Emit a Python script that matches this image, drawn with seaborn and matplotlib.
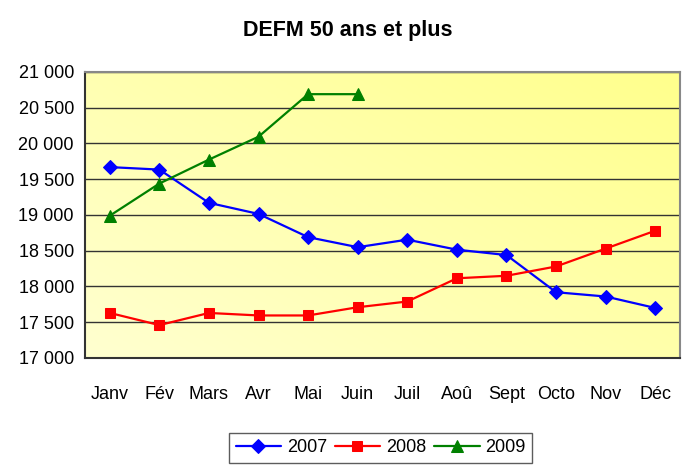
import numpy as np
import pandas as pd
import matplotlib
matplotlib.use('Agg')
import matplotlib.pyplot as plt
import seaborn as sns
from matplotlib.colors import LinearSegmentedColormap
from matplotlib.ticker import FixedLocator, FuncFormatter

# data
mois = ['Janv', 'Fév', 'Mars', 'Avr', 'Mai', 'Juin', 'Juil', 'Aoû', 'Sept', 'Octo', 'Nov', 'Déc']
v2007 = [19670, 19635, 19170, 19015, 18690, 18550, 18655, 18515, 18440, 17920, 17860, 17700]
v2008 = [17630, 17460, 17630, 17595, 17595, 17710, 17790, 18115, 18150, 18280, 18530, 18780]
v2009 = [18990, 19440, 19775, 20095, 20690, 20690]

df = pd.DataFrame({'mois': mois, '2007': v2007, '2008': v2008,
                   '2009': v2009 + [np.nan] * (len(mois) - len(v2009))})
df['x'] = range(len(mois))

sns.set_style('white')
plt.rcParams['font.family'] = ['Liberation Sans', 'DejaVu Sans']
plt.rcParams['text.color'] = 'black'
plt.rcParams['xtick.labelcolor'] = 'black'
plt.rcParams['ytick.labelcolor'] = 'black'

fig = plt.figure(figsize=(6.92, 4.72), dpi=100)
ax = fig.add_axes([85 / 692, 114 / 472, 595 / 692, 286 / 472])

# yellow gradient background
cmap = LinearSegmentedColormap.from_list('jaune', ['#FFFFD0', '#FFFF8C'])
gx, gy = np.meshgrid(np.linspace(0, 1, 200), np.linspace(0, 1, 200))
ax.imshow(gx * 0.55 + gy * 0.45, cmap=cmap, extent=[0, 1, 0, 1], transform=ax.transAxes,
          aspect='auto', origin='lower', zorder=0)

styles = [('2007', 'blue', 'D', 7), ('2008', 'red', 's', 7.5), ('2009', 'green', '^', 9)]
for col, c, m, ms in styles:
    sub = df.dropna(subset=[col])
    sns.lineplot(data=sub, x='x', y=col, ax=ax, color=c, marker=m, markersize=ms,
                 markeredgecolor=c, linewidth=1.6, label=col, zorder=3)

ax.set_xlim(-0.5, len(mois) - 0.5)
ax.set_ylim(17000, 21000)
ax.set_yticks(range(17000, 21001, 500))
ax.yaxis.set_major_formatter(FuncFormatter(lambda v, p: f'{int(v):,}'.replace(',', ' ')))
ax.set_xticks(df['x'])
ax.set_xticklabels(mois)
ax.xaxis.set_minor_locator(FixedLocator(np.arange(-0.5, len(mois), 1)))
ax.tick_params(axis='x', which='major', length=0, pad=20, labelsize=13, labelcolor='black')
ax.tick_params(axis='x', which='minor', length=5, width=1, color='#222222', direction='out')
ax.tick_params(axis='y', length=5, width=1, color='#222222', direction='out', labelsize=13,
               pad=3, labelcolor='black')
ax.grid(axis='y', color='#333333', linewidth=1, zorder=1)
ax.set_axisbelow(True)
ax.set_xlabel('')
ax.set_ylabel('')

for s in ['left', 'bottom']:
    ax.spines[s].set_color('#333333')
    ax.spines[s].set_linewidth(1.5)
for s in ['right', 'top']:
    ax.spines[s].set_color('#888888')
    ax.spines[s].set_linewidth(1.5)

fig.suptitle('DEFM 50 ans et plus', x=0.503, y=0.958, fontsize=15.5, fontweight='bold',
             color='black')

leg = ax.legend(loc='upper center', bbox_to_anchor=(0.497, -0.262), ncol=3, fontsize=13,
                frameon=True, fancybox=False, edgecolor='#333333', handlelength=2.5,
                columnspacing=0.45, handletextpad=0.33, borderpad=0.35, borderaxespad=0)
leg.get_frame().set_linewidth(1)
for t in leg.get_texts():
    t.set_color('black')

fig.savefig('out.png', dpi=100)
